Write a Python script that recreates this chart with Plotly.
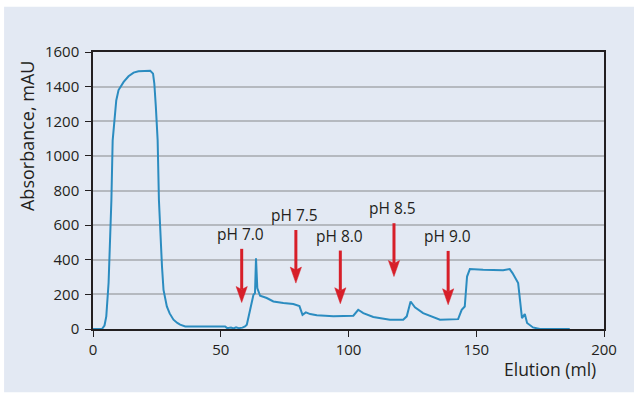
import plotly.graph_objects as go

# Elution profile (ml) and absorbance (mAU)
elution_ml = [0, 3.5, 4.5, 5.2, 6.1, 6.8, 7.2, 7.7, 8.4, 9.1, 10.0, 12.0, 13.9, 15.9, 17.8,
              20.0, 22.4, 23.5, 24.0, 24.6, 25.3, 25.8, 26.3, 27.0, 27.6, 28.9, 30.0, 31.5,
              33.0, 34.1, 36.1, 40, 45, 51.7, 52.5, 54, 55, 56, 57, 58.5, 59.5, 60.2, 61.5,
              62.1, 62.8, 63.4, 63.8, 64.3, 65.4, 68.0, 70.6, 74.5, 78.4, 80.8, 82.0, 83.3,
              85.0, 87.6, 94.1, 101.9, 103.8, 105.8, 109.7, 116.2, 121.4, 122.8, 124.3,
              126.0, 129.2, 135.8, 142.9, 144.3, 145.5, 146.4, 147.5, 152.7, 160.5, 163.1,
              164.2, 166.4, 167.3, 167.9, 169.0, 169.9, 172.2, 174.9, 186.6]
absorbance = [0, 0, 20, 73, 267, 555, 745, 1090, 1225, 1320, 1380, 1427, 1460, 1481, 1489,
              1491, 1491, 1475, 1418, 1283, 1091, 745, 555, 361, 226, 130, 90, 54,
              35, 25, 15, 15, 15, 15, 5, 8, 3, 10, 5, 8, 15, 25, 111,
              159, 198, 207, 409, 236, 192, 179, 159, 150, 144, 132, 82, 96,
              86, 80, 73, 77, 111, 92, 69, 54, 54, 73, 159,
              125, 92, 54, 57, 111, 130, 303, 346, 342, 340, 346,
              323, 265, 130, 63, 86, 35, 9, 0, 0]

# pH step markers (arrow position, arrow top and tip in mAU)
ph_labels = ["pH 7.0", "pH 7.5", "pH 8.0", "pH 8.5", "pH 9.0"]
arrow_x = [58.2, 79.4, 96.8, 117.8, 139.0]
arrow_top = [463, 572, 453, 611, 451]
arrow_tip = [153, 265, 146, 303, 140]

x_ticks = [0, 50, 100, 150, 200]
y_ticks = [0, 200, 400, 600, 800, 1000, 1200, 1400, 1600]

FONT = "Open Sans"
TXT = "#231f20"
BG = "#e3e9f3"
RED = "#d71f29"

X_RANGE = [0, 200]
Y_RANGE = [0, 1600]
W, H = 634, 393
ML, MR, MT, MB = 93, 30, 52, 64
px_per_x = (W - ML - MR) / (X_RANGE[1] - X_RANGE[0])
px_per_y = (H - MT - MB) / (Y_RANGE[1] - Y_RANGE[0])

# arrow head geometry in pixels -> converted to data units
HEAD_LEN = 16 / px_per_y
HEAD_NOTCH = 13 / px_per_y
HEAD_HALF = 5.6 / px_per_x

shaft_x, shaft_y, head_x, head_y = [], [], [], []
for xa, yt, yp in zip(arrow_x, arrow_top, arrow_tip):
    shaft_x += [xa, xa, None]
    shaft_y += [yt, yp + HEAD_NOTCH, None]
    head_x += [xa, xa - HEAD_HALF, xa, xa + HEAD_HALF, xa, None]
    head_y += [yp, yp + HEAD_LEN, yp + HEAD_NOTCH, yp + HEAD_LEN, yp, None]

fig = go.Figure()
fig.add_trace(go.Scatter(x=elution_ml, y=absorbance, mode="lines",
                         line=dict(color="#2b8cc0", width=2), hoverinfo="skip"))
fig.add_trace(go.Scatter(x=shaft_x, y=shaft_y, mode="lines",
                         line=dict(color=RED, width=3), hoverinfo="skip"))
fig.add_trace(go.Scatter(x=head_x, y=head_y, mode="lines", fill="toself",
                         fillcolor=RED, line=dict(color=RED, width=0.5),
                         hoverinfo="skip"))

annotations = []
for lab, xa, yt in zip(ph_labels, arrow_x, arrow_top):
    annotations.append(dict(x=xa, y=yt, xref="x", yref="y", text=lab, showarrow=False,
                            yanchor="bottom", yshift=2, xshift=-1,
                            font=dict(family=FONT, size=15.5, color=TXT)))

annotations.append(dict(x=-0.129, y=0.697, xref="paper", yref="paper",
                        text="Absorbance, mAU", textangle=-90, showarrow=False,
                        xanchor="center", yanchor="middle",
                        font=dict(family=FONT, size=18, color=TXT)))
annotations.append(dict(x=0.988, y=-0.144, xref="paper", yref="paper",
                        text="Elution (ml)", showarrow=False,
                        xanchor="right", yanchor="middle",
                        font=dict(family=FONT, size=17.5, color=TXT)))

fig.update_layout(
    width=W, height=H,
    margin=dict(l=ML, r=MR, t=MT, b=MB),
    paper_bgcolor="white", plot_bgcolor=BG,
    showlegend=False,
    annotations=annotations,
    shapes=[dict(type="rect", xref="paper", yref="paper",
                 x0=-0.174, x1=1.07, y0=-0.228, y1=1.163,
                 fillcolor=BG, line=dict(width=0), layer="below")],
    xaxis=dict(range=X_RANGE, tickvals=x_ticks, showgrid=False, zeroline=False,
               showline=True, linecolor=TXT, linewidth=1.5, mirror=True,
               ticks="outside", ticklen=6, tickcolor=TXT, tickwidth=1.2,
               tickfont=dict(family=FONT, size=15, color=TXT)),
    yaxis=dict(range=Y_RANGE, tickvals=y_ticks, showgrid=True,
               gridcolor="#b5b9bf", gridwidth=1.5, zeroline=False,
               showline=True, linecolor=TXT, linewidth=1.5, mirror=True,
               ticks="outside", ticklen=6, tickcolor=TXT, tickwidth=1.2,
               ticklabelstandoff=3,
               tickfont=dict(family=FONT, size=15, color=TXT)),
)

fig.write_html("out.html", config={"displayModeBar": False},
               post_script="document.body.style.margin='0';")
